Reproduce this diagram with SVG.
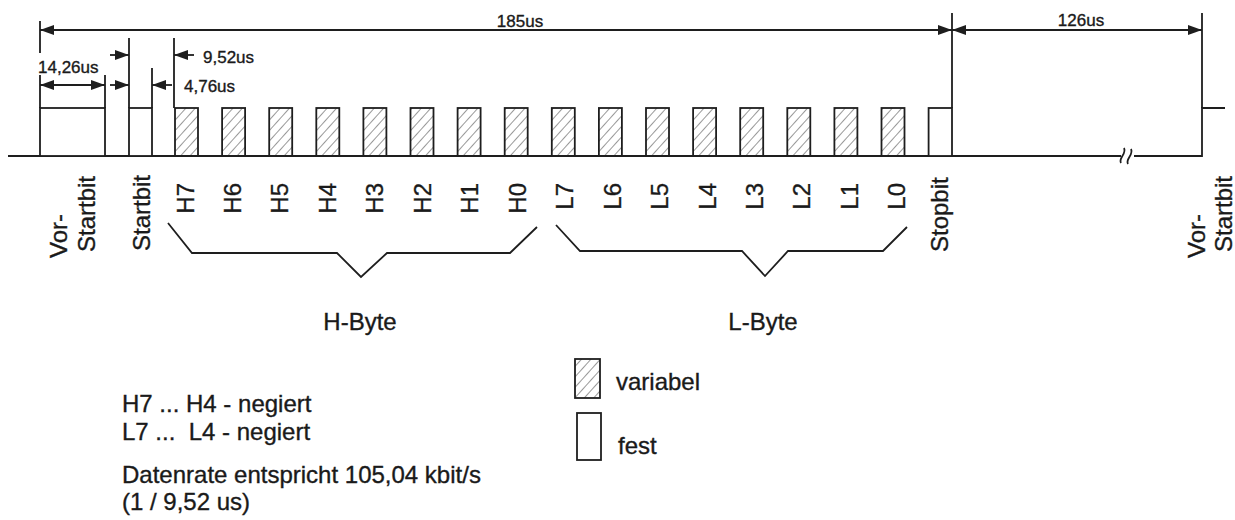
<svg xmlns="http://www.w3.org/2000/svg" width="1235" height="520" viewBox="0 0 1235 520">
<defs>
<style>
.ln{stroke:#1e1e1e;stroke-width:1.8;fill:none}
.box{stroke:#1e1e1e;stroke-width:1.8;fill:#fff}
.hb{stroke:#1e1e1e;stroke-width:1.8;fill:url(#hatch)}
.t{font-family:"Liberation Sans",Arial,sans-serif;fill:#1a1a1a;stroke:#1a1a1a;stroke-width:0.35}
.s17{font-size:17px}
.s24{font-size:24px}
.dim{stroke:#1e1e1e;stroke-width:1.8;fill:none}
.ae{marker-end:url(#arr)}
.as{marker-start:url(#arr)}
</style>
<pattern id="hatch" patternUnits="userSpaceOnUse" width="7" height="7" patternTransform="rotate(42)">
<line x1="0" y1="0" x2="0" y2="7" stroke="#444" stroke-width="1.1"/>
</pattern>
<marker id="arr" markerUnits="userSpaceOnUse" markerWidth="14" markerHeight="10" refX="14" refY="5" orient="auto-start-reverse">
<path d="M0,0 L14,5 L0,10 z" fill="#1e1e1e"/>
</marker>
</defs>
<rect width="1235" height="520" fill="#fff"/>

<g id="connectors">
<path class="ln" d="M8,156 H1121 M1134,156 H1202 V108 H1225"/>
<path class="ln" d="M1121,163 C1118,158 1127,154 1124,148 M1128,164 C1125,159 1134,155 1131,149" stroke-width="1.4"/>
<path class="ln" d="M40,21 V53 M40,75 V108 M105,75 V108 M129,38 V108 M152,68 V108 M174,38 V108 M952,13 V108 M1202,13 V108"/>
<line class="dim as ae" x1="40" y1="30" x2="952" y2="30"/>
<line class="dim as ae" x1="952" y1="30" x2="1202" y2="30"/>
<line class="dim as ae" x1="40" y1="85" x2="105" y2="85"/>
<line class="dim ae" x1="110" y1="55" x2="129" y2="55"/>
<line class="dim ae" x1="194" y1="55" x2="174" y2="55"/>
<line class="dim ae" x1="110" y1="85" x2="129" y2="85"/>
<line class="dim ae" x1="172" y1="85" x2="152" y2="85"/>
<polyline class="ln" points="168,223 192,253 337,253 361,277 387,253 510,253 537,227"/>
<polyline class="ln" points="556,225 580,251 742,251 765,276 788,251 883,251 907,227"/>
</g>

<g id="dimension-labels" class="t s17">
<text x="520" y="27" text-anchor="middle">185us</text>
<text x="1081" y="26" text-anchor="middle">126us</text>
<text x="38" y="73">14,26us</text>
<text x="203" y="63">9,52us</text>
<text x="184" y="92">4,76us</text>
</g>

<g id="vor-startbit">
<rect class="box" x="40" y="108" width="65" height="48"/>
<text class="t s24" transform="translate(67,258) rotate(-90)">Vor-</text>
<text class="t s24" transform="translate(95,252) rotate(-90)">Startbit</text>
</g>
<g id="startbit">
<rect class="box" x="129" y="108" width="23" height="48"/>
<text class="t s24" transform="translate(150,251) rotate(-90)">Startbit</text>
</g>

<g id="H7"><rect class="hb" x="175" y="108" width="23" height="48"/><text class="t s24" text-anchor="end" transform="translate(193.5,183) rotate(-90)">H7</text></g>
<g id="H6"><rect class="hb" x="222.1" y="108" width="23" height="48"/><text class="t s24" text-anchor="end" transform="translate(241,183) rotate(-90)">H6</text></g>
<g id="H5"><rect class="hb" x="269.2" y="108" width="23" height="48"/><text class="t s24" text-anchor="end" transform="translate(288.4,183) rotate(-90)">H5</text></g>
<g id="H4"><rect class="hb" x="316.3" y="108" width="23" height="48"/><text class="t s24" text-anchor="end" transform="translate(335.9,183) rotate(-90)">H4</text></g>
<g id="H3"><rect class="hb" x="363.4" y="108" width="23" height="48"/><text class="t s24" text-anchor="end" transform="translate(383.3,183) rotate(-90)">H3</text></g>
<g id="H2"><rect class="hb" x="410.5" y="108" width="23" height="48"/><text class="t s24" text-anchor="end" transform="translate(430.8,183) rotate(-90)">H2</text></g>
<g id="H1"><rect class="hb" x="457.6" y="108" width="23" height="48"/><text class="t s24" text-anchor="end" transform="translate(478.2,183) rotate(-90)">H1</text></g>
<g id="H0"><rect class="hb" x="504.7" y="108" width="23" height="48"/><text class="t s24" text-anchor="end" transform="translate(525.7,183) rotate(-90)">H0</text></g>
<g id="L7"><rect class="hb" x="551.8" y="108" width="23" height="48"/><text class="t s24" text-anchor="end" transform="translate(573.1,183) rotate(-90)">L7</text></g>
<g id="L6"><rect class="hb" x="598.9" y="108" width="23" height="48"/><text class="t s24" text-anchor="end" transform="translate(620.6,183) rotate(-90)">L6</text></g>
<g id="L5"><rect class="hb" x="646" y="108" width="23" height="48"/><text class="t s24" text-anchor="end" transform="translate(668,183) rotate(-90)">L5</text></g>
<g id="L4"><rect class="hb" x="693.1" y="108" width="23" height="48"/><text class="t s24" text-anchor="end" transform="translate(715.5,183) rotate(-90)">L4</text></g>
<g id="L3"><rect class="hb" x="740.2" y="108" width="23" height="48"/><text class="t s24" text-anchor="end" transform="translate(762.9,183) rotate(-90)">L3</text></g>
<g id="L2"><rect class="hb" x="787.3" y="108" width="23" height="48"/><text class="t s24" text-anchor="end" transform="translate(810.4,183) rotate(-90)">L2</text></g>
<g id="L1"><rect class="hb" x="834.4" y="108" width="23" height="48"/><text class="t s24" text-anchor="end" transform="translate(857.8,183) rotate(-90)">L1</text></g>
<g id="L0"><rect class="hb" x="881.5" y="108" width="23" height="48"/><text class="t s24" text-anchor="end" transform="translate(905.3,183) rotate(-90)">L0</text></g>

<g id="stopbit">
<rect class="box" x="928.6" y="108" width="23.4" height="48"/>
<text class="t s24" transform="translate(947.5,252) rotate(-90)">Stopbit</text>
</g>

<g id="vor-startbit-next">
<text class="t s24" transform="translate(1205,258) rotate(-90)">Vor-</text>
<text class="t s24" transform="translate(1232,252) rotate(-90)">Startbit</text>
</g>

<g id="h-byte"><text class="t s24" x="360" y="330" text-anchor="middle">H-Byte</text></g>
<g id="l-byte"><text class="t s24" x="763" y="330" text-anchor="middle">L-Byte</text></g>

<g id="legend">
<rect class="hb" x="575" y="359" width="25" height="39"/>
<text class="t s24" x="616" y="390">variabel</text>
<rect class="box" x="577" y="413" width="24" height="47"/>
<text class="t s24" x="618" y="454">fest</text>
</g>

<g id="notes" class="t s24">
<text x="122" y="412">H7 ... H4 - negiert</text>
<text x="122" y="440" xml:space="preserve">L7 ...  L4 - negiert</text>
<text x="122" y="483">Datenrate entspricht 105,04 kbit/s</text>
<text x="122" y="510">(1 / 9,52 us)</text>
</g>
</svg>
